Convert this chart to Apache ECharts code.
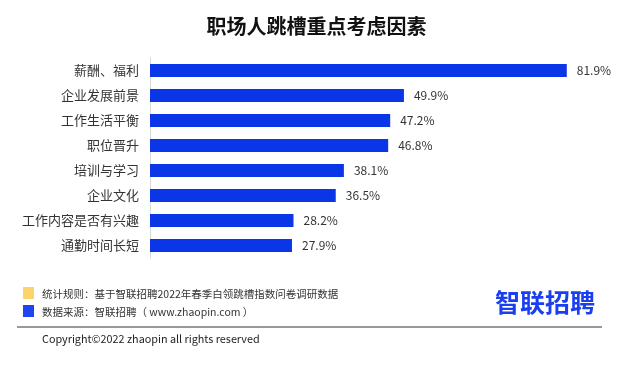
<!DOCTYPE html>
<html>
<head>
<meta charset="utf-8">
<script src="https://cdn.jsdelivr.net/npm/echarts@6/dist/echarts.min.js"></script>
<style>html,body{margin:0;padding:0;background:#fff}#c{width:633px;height:375px}</style>
</head>
<body>
<div id="c"></div>
<script>
var categories = ['薪酬、福利', '企业发展前景', '工作生活平衡', '职位晋升', '培训与学习', '企业文化', '工作内容是否有兴趣', '通勤时间长短'];
var values = [81.9, 49.9, 47.2, 46.8, 38.1, 36.5, 28.2, 27.9];
var titleText = '职场人跳槽重点考虑因素';
var note1 = '统计规则：基于智联招聘2022年春季白领跳槽指数问卷调研数据';
var note2 = '数据来源：智联招聘（ www.zhaopin.com ）';
var copyright = 'Copyright©2022 zhaopin all rights reserved';
var logoText = '智联招聘';

var FONT = '"Noto Sans CJK SC", "Noto Sans", sans-serif';
var chart = echarts.init(document.getElementById('c'));
chart.setOption({
  backgroundColor: '#fff',
  animation: false,
  textStyle: { fontFamily: FONT },
  title: {
    text: titleText, left: 'center', top: 11,
    textStyle: { fontSize: 20, fontWeight: 'bold', color: '#111', fontFamily: FONT }
  },
  grid: { left: 150, right: 25, top: 58, height: 200 },
  xAxis: { type: 'value', min: 0, max: 90, show: false },
  yAxis: {
    type: 'category', data: categories, inverse: true,
    axisLine: { show: true, lineStyle: { color: '#d9d9d9', width: 1 } },
    axisTick: { show: false },
    axisLabel: { margin: 11, fontSize: 13, color: '#333', fontFamily: FONT }
  },
  series: [{
    type: 'bar', data: values, barWidth: 13,
    itemStyle: { color: '#0b36e8' },
    label: {
      show: true, position: 'right', distance: 10,
      formatter: '{c}%', fontSize: 12, color: '#333', fontFamily: FONT
    }
  }],
  graphic: [
    { type: 'rect', shape: { x: 23, y: 287, width: 11, height: 12 }, style: { fill: '#fdd36c' } },
    { type: 'rect', shape: { x: 23, y: 305, width: 11, height: 12 }, style: { fill: '#1f45f0' } },
    { type: 'text', x: 42, y: 294, style: { text: note1, font: '10.5px ' + FONT, fill: '#333', textVerticalAlign: 'middle' } },
    { type: 'text', x: 42, y: 312, style: { text: note2, font: '10.5px ' + FONT, fill: '#333', textVerticalAlign: 'middle' } },
    { type: 'text', x: 495, y: 302, style: { text: logoText, font: 'bold 25px ' + FONT, fill: '#1a3ff0', textVerticalAlign: 'middle' } },
    { type: 'line', shape: { x1: 17, y1: 327, x2: 602, y2: 327 }, style: { stroke: '#777', lineWidth: 1.5 } },
    { type: 'text', x: 42, y: 339, style: { text: copyright, font: '10.8px ' + FONT, fill: '#222', textVerticalAlign: 'middle' } }
  ]
});
</script>
</body>
</html>
